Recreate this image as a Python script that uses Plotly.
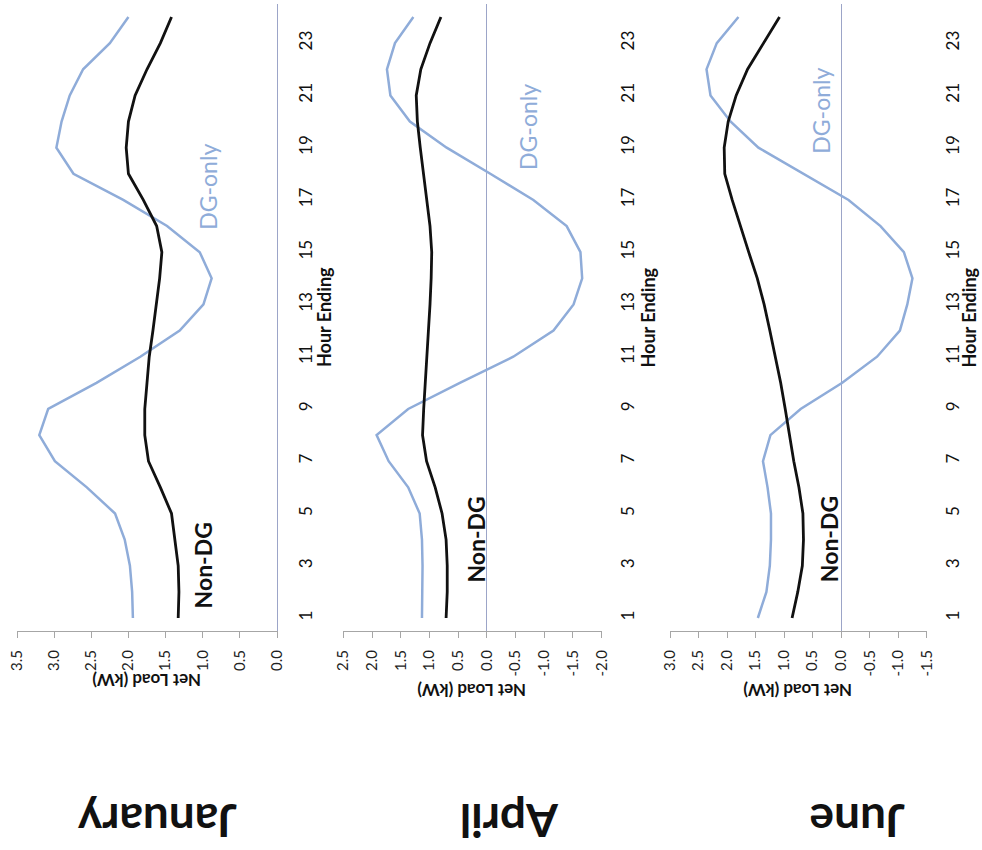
import plotly.graph_objects as go

W, H = 982, 850

hours = list(range(1, 25))
hour_tick_vals = list(range(1, 24, 2))
hour_tick_text = [str(h) for h in hour_tick_vals]

months = ["January", "April", "June"]

jan_non_dg = [1.33, 1.32, 1.33, 1.37, 1.42, 1.57, 1.73, 1.78, 1.78, 1.75, 1.72, 1.67,
              1.62, 1.58, 1.55, 1.62, 1.80, 2.00, 2.03, 2.00, 1.91, 1.75, 1.57, 1.42]
jan_dg_only = [1.94, 1.95, 1.98, 2.05, 2.18, 2.56, 2.99, 3.20, 3.08, 2.43, 1.84, 1.31,
               0.99, 0.88, 1.04, 1.48, 2.07, 2.74, 2.97, 2.90, 2.79, 2.61, 2.25, 2.00]
apr_non_dg = [0.71, 0.69, 0.69, 0.71, 0.78, 0.90, 1.05, 1.12, 1.10, 1.07, 1.05, 1.01,
              0.99, 0.97, 0.96, 0.99, 1.05, 1.10, 1.16, 1.21, 1.23, 1.15, 0.99, 0.80]
apr_dg_only = [1.13, 1.12, 1.12, 1.13, 1.17, 1.37, 1.71, 1.92, 1.37, 0.47, -0.46, -1.16,
               -1.51, -1.66, -1.63, -1.39, -0.81, -0.06, 0.70, 1.34, 1.68, 1.74, 1.60, 1.28]
jun_non_dg = [0.86, 0.76, 0.68, 0.66, 0.67, 0.74, 0.83, 0.90, 0.98, 1.06, 1.15, 1.25,
              1.35, 1.47, 1.62, 1.77, 1.91, 2.04, 2.05, 1.98, 1.84, 1.64, 1.36, 1.08]
jun_dg_only = [1.46, 1.31, 1.25, 1.23, 1.23, 1.29, 1.37, 1.24, 0.71, -0.02, -0.63, -1.03,
               -1.16, -1.25, -1.10, -0.69, -0.13, 0.66, 1.45, 1.94, 2.29, 2.36, 2.18, 1.80]

jan_value_ticks = [3.5, 3.0, 2.5, 2.0, 1.5, 1.0, 0.5, 0.0]
jan_value_labels = ["3.5", "3.0", "2.5", "2.0", "1.5", "1.0", "0.5", "0.0"]
apr_value_ticks = [2.5, 2.0, 1.5, 1.0, 0.5, 0.0, -0.5, -1.0, -1.5, -2.0]
apr_value_labels = ["2.5", "2.0", "1.5", "1.0", "0.5", "0.0", "-0.5", "-1.0", "-1.5", "-2.0"]
jun_value_ticks = [3.0, 2.5, 2.0, 1.5, 1.0, 0.5, 0.0, -0.5, -1.0, -1.5]
jun_value_labels = ["3.0", "2.5", "2.0", "1.5", "1.0", "0.5", "0.0", "-0.5", "-1.0", "-1.5"]

value_ranges = [[3.5, 0.0], [2.5, -2.0], [3.0, -1.5]]

# label anchor positions (value, hour) for in-plot series labels
non_dg_label_pos = [(1.0, 3.0), (0.19, 4.0), (0.22, 4.0)]
dg_label_pos = [(0.93, 17.5), (-0.72, 19.8), (0.36, 20.4)]

BLUE = "#8FACD9"
BLACK = "#111111"
AXIS_GRAY = "#A6A6A6"
ZERO_BLUE = "#9CA5C8"
FONT = "Lato"

# pixel layout of the rotated page
x_domains_px = [(17, 277), (343.3, 601.7), (670, 926.7)]
y_domain_px = (3.94, 631.07)
hour_title_px = [323.5, 648, 969]
net_title_px = [(147, 681), (472, 691), (798, 691)]
month_title_px = [(157, 822), (510, 822), (857, 822)]


def px(xp):
    return xp / W


def py(yp):
    return 1 - yp / H


fig = go.Figure()

series = [(jan_non_dg, jan_dg_only), (apr_non_dg, apr_dg_only), (jun_non_dg, jun_dg_only)]
value_ticks = [(jan_value_ticks, jan_value_labels), (apr_value_ticks, apr_value_labels),
               (jun_value_ticks, jun_value_labels)]
layout = {}
annotations = []
for i, (non_dg, dg) in enumerate(series):
    sfx = "" if i == 0 else str(i + 1)
    xa, ya = "x" + sfx, "y" + sfx
    fig.add_trace(go.Scatter(x=dg, y=hours, xaxis=xa, yaxis=ya, mode="lines",
                             line=dict(color=BLUE, width=2.5), showlegend=False))
    fig.add_trace(go.Scatter(x=non_dg, y=hours, xaxis=xa, yaxis=ya, mode="lines",
                             line=dict(color=BLACK, width=2.8), showlegend=False))
    d0, d1 = x_domains_px[i]
    tv, tt = value_ticks[i]
    layout["xaxis" + sfx] = dict(
        domain=[px(d0), px(d1)], range=value_ranges[i], autorange=False,
        anchor=ya, tickmode="array", tickvals=tv, ticktext=tt, tickangle=-90,
        tickfont=dict(family=FONT, size=15, color="#222222"),
        showline=True, linecolor=AXIS_GRAY, linewidth=1,
        ticks="outside", ticklen=6, tickcolor=AXIS_GRAY, tickwidth=1,
        ticklabelstandoff=6,
        showgrid=False, zeroline=(i != 0), zerolinecolor=ZERO_BLUE, zerolinewidth=1,
        automargin=False, fixedrange=True)
    layout["yaxis" + sfx] = dict(
        domain=[py(y_domain_px[1]), py(y_domain_px[0])], range=[0.5, 24.5], autorange=False,
        anchor=xa, side="right", tickmode="array", tickvals=hour_tick_vals,
        ticktext=hour_tick_text, tickangle=-90,
        tickfont=dict(family=FONT, size=17, color="#111111"),
        ticks="", ticklabelstandoff=14,
        showline=(i == 0), linecolor=ZERO_BLUE, linewidth=1,
        showgrid=False, zeroline=False, automargin=False, fixedrange=True)

    annotations.append(dict(text="<b>Hour Ending</b>", xref="paper", yref="paper",
                            x=px(hour_title_px[i]), y=py(sum(y_domain_px) / 2),
                            xanchor="center", yanchor="middle",
                            textangle=-90, showarrow=False,
                            font=dict(family=FONT, size=18, color="#111111")))
    nx, ny = net_title_px[i]
    annotations.append(dict(text="<b>Net Load (kW)</b>", xref="paper", yref="paper",
                            x=px(nx), y=py(ny), xanchor="center", yanchor="middle",
                            textangle=180, showarrow=False,
                            font=dict(family=FONT, size=17, color="#111111")))
    mx, my = month_title_px[i]
    annotations.append(dict(text="<b>" + months[i] + "</b>", xref="paper", yref="paper",
                            x=px(mx), y=py(my), xanchor="center", yanchor="middle",
                            textangle=180, showarrow=False,
                            font=dict(family=FONT, size=46, color="#111111")))
    lx, ly = non_dg_label_pos[i]
    annotations.append(dict(text="<b>Non-DG</b>", xref=xa, yref=ya, x=lx, y=ly,
                            xanchor="center", yanchor="middle",
                            textangle=-90, showarrow=False,
                            font=dict(family=FONT, size=23, color="#111111")))
    gx, gy = dg_label_pos[i]
    annotations.append(dict(text="DG-only", xref=xa, yref=ya, x=gx, y=gy,
                            xanchor="center", yanchor="middle",
                            textangle=-90, showarrow=False,
                            font=dict(family=FONT, size=23, color=BLUE)))

fig.update_layout(
    width=W, height=H,
    margin=dict(l=0, r=0, t=0, b=0),
    paper_bgcolor="white", plot_bgcolor="white",
    annotations=annotations,
    **layout,
)

fig.write_html("out.html")
